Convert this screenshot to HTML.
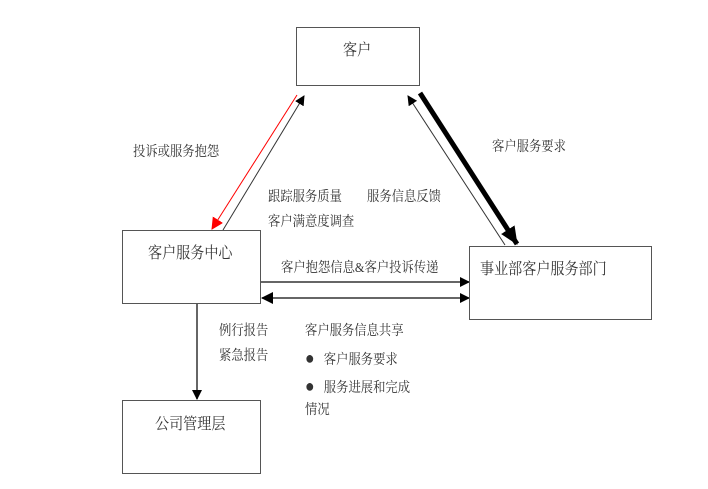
<!DOCTYPE html>
<html><head><meta charset="utf-8"><style>
body{margin:0;background:#fff;width:708px;height:489px;overflow:hidden;position:relative;font-family:"Liberation Serif","Noto Serif CJK SC",serif;color:#333}
.b{position:absolute;border:1.5px solid #555;box-sizing:border-box;background:#fff}
.t{position:absolute;font-size:14px;white-space:nowrap;line-height:16px;transform:scaleX(0.88);transform-origin:0 0}
</style></head><body>
<svg width="708" height="489" style="position:absolute;left:0;top:0">
<defs>
<marker id="a" markerWidth="10" markerHeight="10" refX="9" refY="5" orient="auto" markerUnits="userSpaceOnUse"><path d="M0,0 L10,5 L0,10z" fill="#000"/></marker>
<marker id="r" markerWidth="12" markerHeight="12" refX="11" refY="6" orient="auto" markerUnits="userSpaceOnUse"><path d="M0,0 L12,6 L0,12z" fill="red"/></marker>
<marker id="k" markerWidth="18" markerHeight="16" refX="17" refY="8" orient="auto" markerUnits="userSpaceOnUse"><path d="M0,0 L18,8 L0,16z" fill="#000"/></marker>
<marker id="s" markerWidth="12" markerHeight="12" refX="1" refY="6" orient="auto" markerUnits="userSpaceOnUse"><path d="M12,0 L0,6 L12,12z" fill="#000"/></marker>
</defs>
<line x1="297" y1="95" x2="212" y2="229" stroke="red" stroke-width="1" marker-end="url(#r)"/>
<line x1="223" y1="230" x2="304" y2="96" stroke="#333" stroke-width="1" marker-end="url(#a)"/>
<line x1="420" y1="93" x2="517" y2="244" stroke="#000" stroke-width="5" marker-end="url(#k)"/>
<line x1="505" y1="245" x2="408" y2="96" stroke="#333" stroke-width="1" marker-end="url(#a)"/>
<line x1="260" y1="282" x2="469" y2="282" stroke="#333" stroke-width="1.5" marker-end="url(#a)"/>
<line x1="262" y1="298" x2="469" y2="298" stroke="#333" stroke-width="1.5" marker-end="url(#a)" marker-start="url(#s)"/>
<line x1="197" y1="298" x2="197" y2="399" stroke="#333" stroke-width="1.5" marker-end="url(#a)"/>
</svg>
<div class="b" style="left:296px;top:27px;width:124px;height:59px"></div>
<div class="t" style="left:343px;top:43px;font-size:16px">客户</div>
<div class="b" style="left:122px;top:230px;width:139px;height:74px"></div>
<div class="t" style="left:148px;top:246px;font-size:16px">客户服务中心</div>
<div class="b" style="left:122px;top:400px;width:139px;height:74px"></div>
<div class="t" style="left:155px;top:417px;font-size:16px">公司管理层</div>
<div class="b" style="left:469px;top:246px;width:183px;height:74px"></div>
<div class="t" style="left:480px;top:262px;font-size:16px">事业部客户服务部门</div>
<div class="t" style="left:133px;top:145px">投诉或服务抱怨</div>
<div class="t" style="left:492px;top:140px">客户服务要求</div>
<div class="t" style="left:268px;top:190px">跟踪服务质量</div>
<div class="t" style="left:268px;top:215px">客户满意度调查</div>
<div class="t" style="left:367px;top:190px">服务信息反馈</div>
<div class="t" style="left:281px;top:261px">客户抱怨信息&amp;客户投诉传递</div>
<div class="t" style="left:219px;top:324px">例行报告</div>
<div class="t" style="left:219px;top:349px">紧急报告</div>
<div class="t" style="left:305px;top:324px">客户服务信息共享</div>
<div class="t" style="left:305px;top:350px"><span style="font-size:18px">●</span>&nbsp;&nbsp;&nbsp;客户服务要求</div>
<div class="t" style="left:305px;top:378px"><span style="font-size:18px">●</span>&nbsp;&nbsp;&nbsp;服务进展和完成</div>
<div class="t" style="left:305px;top:403px">情况</div>
</body></html>
